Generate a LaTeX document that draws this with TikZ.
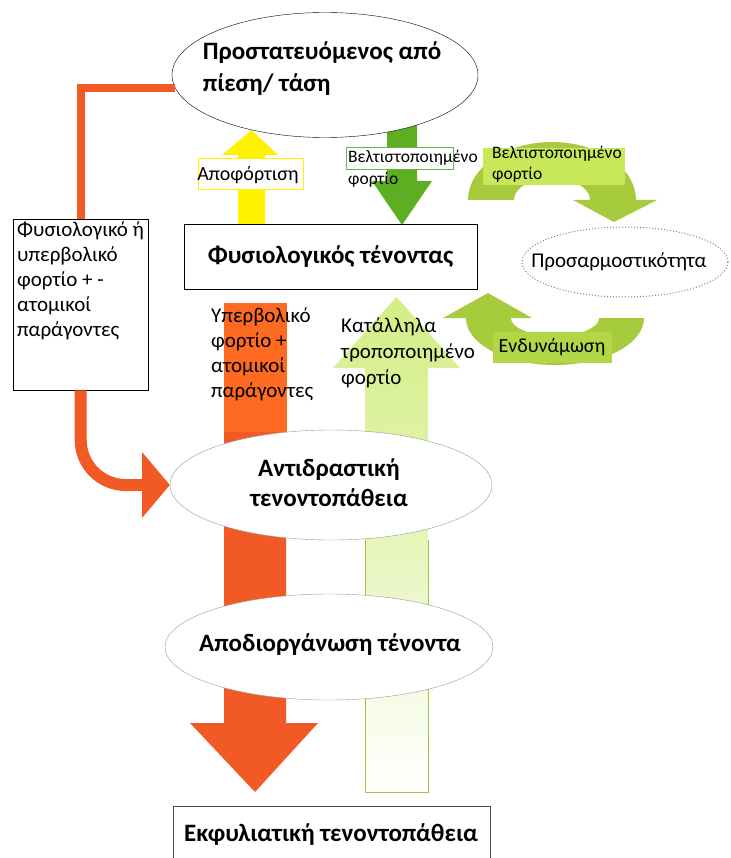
\documentclass[tikz,border=0pt]{standalone}
\usepackage{fontspec}
\setmainfont{Carlito}
\usetikzlibrary{shapes.geometric}
\definecolor{orA}{HTML}{F15A24}
\definecolor{orB}{HTML}{FF6A22}
\definecolor{yel}{HTML}{FFF200}
\definecolor{grD}{HTML}{5EAE22}
\definecolor{grM}{HTML}{A6CB3C}
\definecolor{grL}{HTML}{C8E85A}
\definecolor{grE}{HTML}{B2D645}
\definecolor{grP}{HTML}{D3EE84}
\definecolor{grB}{HTML}{9CC84A}
\definecolor{grK}{HTML}{6DB33F}
\begin{document}
\begin{tikzpicture}[x=1pt,y=-1pt,
  ell/.style={ellipse, draw, fill=white, inner sep=0pt, align=center},
  bigtxt/.style={font=\fontsize{25}{31}\selectfont\bfseries, inner sep=0pt},
  regtxt/.style={font=\fontsize{21}{25}\selectfont, align=left, inner sep=0pt},
  smalltxt/.style={font=\fontsize{17.5}{21}\selectfont, align=left, inner sep=0pt}]
\useasboundingbox (0,0) rectangle (730,858);
\clip (0,0) rectangle (730,858);
\fill[white] (0,0) rectangle (730,858);

% light green up arrow
\shade[top color=grP, bottom color=white, middle color=grP!55!white] (396.5,297) -- (460,368) -- (428,368) -- (428,792) -- (365,792) -- (365,368) -- (333,368) -- cycle;
\draw[grB, line width=1] (365,540) -- (365,792) -- (428,792) -- (428,540);
% orange down arrow
\fill[orA] (224,430) -- (286,430) -- (286,723) -- (318,723) -- (255,792) -- (190,723) -- (224,723) -- cycle;
\fill[orB] (224,303) rectangle (287,432);
\node[regtxt, anchor=north west] (uperb) at (211,308) {Υπερβολικό\\φορτίο +\\ατομικοί\\παράγοντες};
\node[regtxt, anchor=north west, font=\fontsize{21}{26}\selectfont] (katal) at (341,318) {Κατάλληλα\\τροποποιημένο\\φορτίο};

% ellipses
\node[ell, draw=gray!80, minimum width=322pt, minimum height=110pt] (antid) at (331,485) {};
\node[bigtxt, align=center, font=\fontsize{25}{30}\selectfont\bfseries] (antidtxt) at (329,483) {Αντιδραστική\\τενοντοπάθεια};
\node[ell, draw=gray!80, minimum width=328pt, minimum height=106pt] (apod) at (329,647) {};
\node[bigtxt] (apodtxt) at (330,645) {Αποδιοργάνωση τένοντα};

% bottom box
\node[draw=gray!60!black, fill=white, minimum width=317pt, minimum height=70pt, anchor=north west] (ekfbox) at (173,806) {};
\node[bigtxt] (ekf) at (331,835) {Εκφυλιατική τενοντοπάθεια};

% yellow arrow
\fill[yel] (251.5,130) -- (278,155) -- (265,155) -- (265,226) -- (238,226) -- (238,155) -- (222,155) -- cycle;
\draw[yel, line width=1, fill=white] (198,159) rectangle (303,190);
\node[regtxt, font=\fontsize{20}{24}\selectfont] (apof) at (248,175) {Αποφόρτιση};

% dark green down arrow
\fill[grD] (387,120) -- (417,120) -- (417,181) -- (432,181) -- (402,225) -- (372,181) -- (387,181) -- cycle;
\draw[grK, line width=1, fill=white] (346,148) rectangle (453,170);
\node[smalltxt, anchor=north west, font=\fontsize{17.5}{22}\selectfont] (belt1) at (348,150) {Βελτιστοποιημένο\\φορτίο};

% top ellipse
\node[ell, draw=black, minimum width=306pt, minimum height=125pt] (prot) at (325,75) {};
\node[bigtxt, align=left, font=\fontsize{25}{32}\selectfont\bfseries] (prottxt) at (322,69) {Προστατευόμενος από\\πίεση/ τάση};

% middle box
\node[draw=black, fill=white, minimum width=293pt, minimum height=65pt, bigtxt] (fys) at (330.5,256.5) {Φυσιολογικός τένοντας};

% left box
\node[draw=black, fill=white, minimum width=135pt, minimum height=171pt, anchor=north west] (lbox) at (13,219) {};
\node[regtxt, anchor=north west] (lboxtxt) at (17,222) {Φυσιολογικό ή\\υπερβολικό\\φορτίο + -\\ατομικοί\\παράγοντες};

% orange connector
\draw[orA, line width=8pt] (prot.185) -| (lbox.north);
\draw[orA, line width=12pt, rounded corners=45pt] (lbox.south) |- (143,485);
\fill[orA] (142,452) -- (antid.west) -- (142,518) -- cycle;

% right cycle: upper arc arrow
\fill[grM] (468,200) -- plot[domain=180:0,samples=60] ({552+84*cos(\x)},{200-58*sin(\x)}) -- (657,200) -- (614,222) -- (573,200) -- (590,200) -- plot[domain=0:180,samples=60] ({552+38*cos(\x)},{200-22*sin(\x)}) -- cycle;
\fill[grL] (483,148) rectangle (625,185);
\node[smalltxt] (belt2) [anchor=north west] at (492,146) {Βελτιστοποιημένο\\φορτίο};

% adaptability ellipse
\node[ellipse, draw=gray, dotted, line width=1pt, minimum width=206pt, minimum height=70pt, inner sep=0pt] (pros) at (625,262) {};
\node[inner sep=0pt, font=\fontsize{21}{25}\selectfont] (prostxt) at (619,262) {Προσαρμοστικότητα};

% lower arc arrow
\fill[grM] (644,318) -- plot[domain=0:-180,samples=60] ({555+89*cos(\x)},{318-47*sin(\x)}) -- (443,318) -- (488,293) -- (532,318) -- (511,318) -- plot[domain=-180:0,samples=60] ({555+44*cos(\x)},{318-18*sin(\x)}) -- cycle;
\fill[grE] (493,332) rectangle (612,363);
\node[regtxt, font=\fontsize{20}{24}\selectfont] (endyn) at (552,347) {Ενδυνάμωση};
\end{tikzpicture}
\end{document}
